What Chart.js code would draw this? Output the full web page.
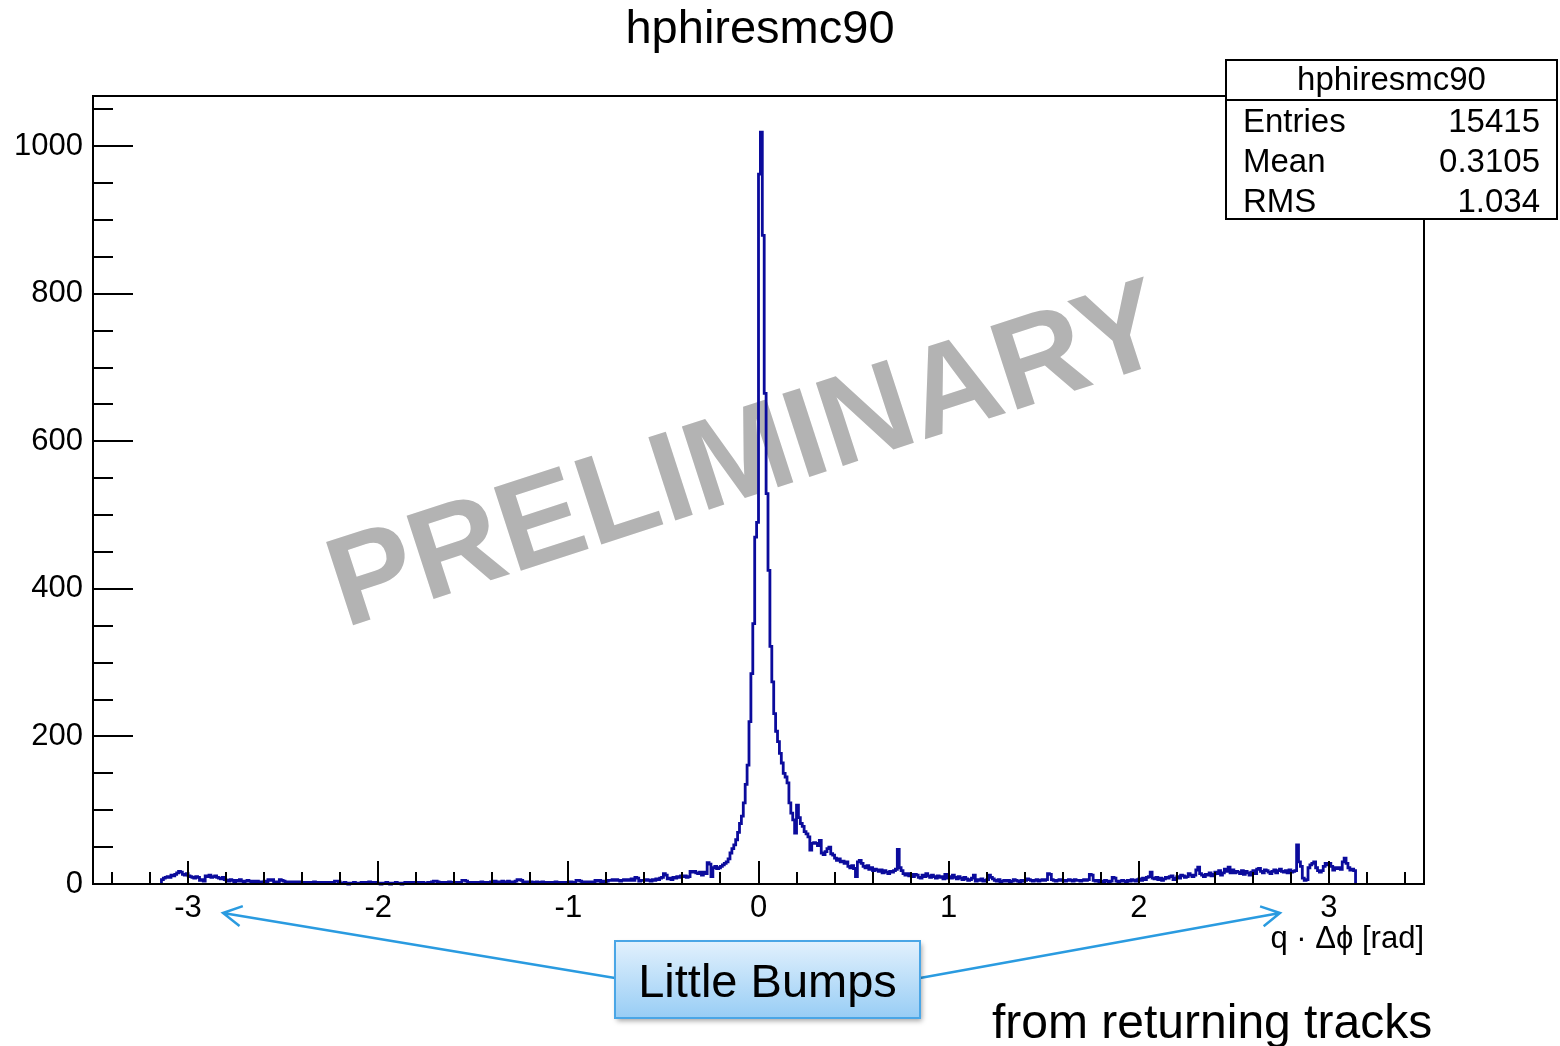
<!DOCTYPE html>
<html>
<head>
<meta charset="utf-8">
<title>hphiresmc90</title>
<script src="https://cdn.jsdelivr.net/npm/chart.js@4.4.1/dist/chart.umd.min.js"></script>
<style>
  html, body { margin: 0; padding: 0; background: #fff; overflow: hidden; }
  #chart { display: block; }
</style>
</head>
<body>
<canvas id="chart" width="1560" height="1046"></canvas>
<script>
/**
 * ROOT-style histogram: hphiresmc90  (q · Δφ, bins of 0.01 rad)
 */

// Histogram definition
const BIN_START = -3.14;
const BIN_WIDTH = 0.01;

// Counts, one value per 0.01 bin
// -3.14 .. -1.01
const countsLeftTail = [
    6, 8, 9, 10, 9, 12, 11, 13, 15, 17, 16, 13, 12, 14, 11, 10, 9, 8, 10, 9,
    5, 6, 4, 11, 10, 12, 9, 10, 11, 9, 8, 7, 9, 6,
    5, 4, 6, 5, 3, 5, 4, 6, 4, 3, 4, 5, 4, 3, 4, 2, 4, 3, 2, 3,
    4, 3, 6, 5, 6, 3, 2, 3, 6, 5, 4, 3, 2, 3, 3, 2, 3, 2, 3, 2,
    2, 1, 2, 2, 1, 2, 3, 2, 1, 2,
    2, 1, 2, 1, 2, 2, 1, 4, 4, 3,
    1, 1, 2, 1, 0, 1, 1, 2, 1, 1,
    1, 2, 1, 2, 2, 3, 2, 1, 2, 1,
    1, 0, 1, 1, 2, 1, 0, 1, 1, 2,
    1, 1, 0, 1, 2, 2, 1, 2, 2, 1,
    2, 2, 1, 2, 1, 1, 2, 1, 3, 4,
    4, 3, 2, 2, 1, 2, 2, 3, 2, 1,
    2, 2, 1, 2, 5, 5, 4, 2, 1, 2,
    2, 1, 2, 2, 3, 2, 1, 2, 2, 3,
    3, 4, 3, 2, 3, 4, 3, 2, 4, 3,
    3, 2, 4, 6, 6, 5, 3, 2, 3, 2,
    3, 2, 2, 3, 1, 2, 3, 2, 1, 2,
    2, 1, 2, 3, 2, 1, 2, 2, 1, 2
];
// -1.00 .. -0.11
const countsLeftShoulder = [
    2, 3, 2, 2, 5, 5, 4, 3, 2, 3,
    3, 2, 3, 3, 5, 4, 5, 3, 4, 3,
    4, 5, 5, 6, 5, 6, 5, 4, 5, 6,
    5, 6, 5, 7, 5, 9, 8, 4, 5, 5,
    5, 6, 5, 4, 6, 5, 7, 6, 8, 9,
    14, 12, 7, 8, 6, 9, 8, 10, 9, 11,
    10, 11, 9, 10, 17, 16, 17, 15, 14, 16,
    12, 16, 14, 29, 27, 10, 22, 24, 21, 22,
    24, 26, 28, 30, 34, 42, 48, 53, 60, 70
];
// -0.10 .. 0.19
const countsCore = [
    82, 92, 110, 135, 161, 220, 285, 353, 470, 490,
    962, 1019, 879, 665, 529, 425, 322, 274, 231, 207,
    193, 177, 164, 150, 145, 137, 110, 96, 87, 69
];
// 0.20 .. 0.99
const countsRightShoulder = [
    107, 90, 82, 78, 71, 68, 64, 46, 55, 56,
    55, 52, 59, 42, 40, 44, 48, 50, 41, 39,
    35, 32, 34, 30, 31, 28, 30, 24, 22, 25,
    21, 10, 30, 32, 28, 24, 22, 25, 20, 22,
    18, 20, 19, 17, 19, 15, 18, 16, 14, 17,
    16, 18, 20, 47, 22, 18, 14, 12, 14, 11,
    13, 10, 13, 12, 9, 8, 12, 10, 14, 11,
    9, 12, 10, 8, 11, 9, 10, 7, 13, 8
];
// 1.00 .. 3.13
const countsRightTail = [
    10, 8, 12, 9, 7, 10, 8, 6, 9, 7,
    5, 6, 8, 12, 4, 6, 5, 7, 4, 5,
    6, 12, 9, 7, 5, 4, 6, 3, 4, 5,
    4, 5, 3, 4, 6, 5, 4, 3, 5, 4,
    5, 7, 6, 5, 4, 5, 6, 4, 5, 6,
    5, 6, 14, 13, 6, 5, 4, 5, 6, 5,
    5, 4, 5, 6, 5, 4, 6, 5, 5, 4,
    5, 6, 5, 6, 13, 12, 5, 4, 5, 3,
    4, 3, 5, 4, 3, 4, 9, 8, 4, 3,
    4, 5, 4, 3, 5, 4, 6, 5, 4, 6,
    7, 5, 8, 6, 9, 10, 16, 8, 7, 9,
    6, 8, 5, 7, 9, 8, 10, 11, 6, 8,
    10, 8, 12, 11, 9, 10, 14, 12, 10, 12,
    19, 23, 14, 12, 10, 13, 12, 15, 11, 13,
    16, 14, 18, 12, 15, 20, 17, 23, 15, 19,
    15, 17, 16, 14, 18, 13, 17, 15, 12, 16,
    18, 14, 20, 21, 17, 15, 19, 18, 16, 14,
    17, 19, 15, 18, 20, 17, 16, 18, 15, 19,
    16, 17, 18, 53, 30, 24, 8, 5, 6, 22,
    26, 28, 30, 22, 18, 16, 18, 24, 28, 26,
    28, 24, 19, 22, 21, 22, 20, 30, 35, 28,
    22, 19, 20, 18
];

// Axes
const X_RANGE = [-3.5, 3.5];
const Y_RANGE = [0, 1068];
const xTicks = [-3, -2, -1, 0, 1, 2, 3];
const yTicks = [0, 200, 400, 600, 800, 1000];
const X_MINOR_STEP = 0.2;
const Y_MINOR_STEP = 50;

// Stats box
const histName = 'hphiresmc90';
const statLabels = ['Entries', 'Mean', 'RMS'];
const statValues = ['15415', '0.3105', '1.034'];

const xAxisTitle = 'q \u00b7 \u0394\u03d5 [rad]';
const watermark = 'PRELIMINARY';
const calloutText = 'Little Bumps';
const noteText = 'from returning tracks';

const FONT = '"Liberation Sans", Arial, Helvetica, sans-serif';
const LINE_COLOR = '#0b0b9c';
const CALLOUT_BLUE = '#2a9be0';

/**
 * HELPER: histogram outline points (bin low edges, stepped)
 */
function buildHistogramPoints() {
    const counts = [].concat(countsLeftTail, countsLeftShoulder, countsCore,
        countsRightShoulder, countsRightTail);
    const pts = [{ x: BIN_START, y: 0 }];
    counts.forEach((c, i) => {
        pts.push({ x: +(BIN_START + i * BIN_WIDTH).toFixed(2), y: c });
    });
    pts.push({ x: +(BIN_START + counts.length * BIN_WIDTH).toFixed(2), y: 0 });
    return pts;
}

/**
 * HELPER: open arrow head
 */
function drawArrow(ctx, x1, y1, x2, y2) {
    const ang = Math.atan2(y2 - y1, x2 - x1);
    const len = 21, spread = 0.5;
    ctx.beginPath();
    ctx.moveTo(x1, y1);
    ctx.lineTo(x2, y2);
    ctx.moveTo(x2 - len * Math.cos(ang - spread), y2 - len * Math.sin(ang - spread));
    ctx.lineTo(x2, y2);
    ctx.lineTo(x2 - len * Math.cos(ang + spread), y2 - len * Math.sin(ang + spread));
    ctx.stroke();
}

/**
 * PLUGIN: ROOT look (watermark, frame, inward ticks, stats, notes)
 */
const rootStyle = {
    id: 'rootStyle',

    beforeDatasetsDraw(chart) {
        const ctx = chart.ctx;
        ctx.save();
        ctx.translate(748, 460);
        ctx.rotate(-18 * Math.PI / 180);
        ctx.font = `bold 127px ${FONT}`;
        ctx.fillStyle = '#b3b3b3';
        ctx.textAlign = 'center';
        ctx.textBaseline = 'middle';
        ctx.fillText(watermark, 0, 0);
        ctx.restore();
    },

    afterDatasetsDraw(chart) {
        const ctx = chart.ctx;
        const { left, right, top, bottom } = chart.chartArea;
        const xs = chart.scales.x, ys = chart.scales.y;

        ctx.save();
        ctx.strokeStyle = '#000';
        ctx.lineWidth = 2;
        ctx.strokeRect(left, top, right - left, bottom - top);

        ctx.beginPath();
        // x ticks, pointing up into the frame
        for (let v = -3.4; v <= 3.41; v += X_MINOR_STEP) {
            const px = Math.round(xs.getPixelForValue(v));
            const major = xTicks.some(t => Math.abs(t - v) < 1e-6);
            ctx.moveTo(px, bottom);
            ctx.lineTo(px, bottom - (major ? 23 : 12));
        }
        // y ticks, pointing right into the frame
        for (let v = 0; v <= Y_RANGE[1]; v += Y_MINOR_STEP) {
            const py = Math.round(ys.getPixelForValue(v));
            const major = yTicks.includes(v);
            ctx.moveTo(left, py);
            ctx.lineTo(left + (major ? 40 : 20), py);
        }
        ctx.stroke();
        ctx.restore();
    },

    afterDraw(chart) {
        const ctx = chart.ctx;
        const { right } = chart.chartArea;
        ctx.save();

        // title
        ctx.fillStyle = '#000';
        ctx.font = `47px ${FONT}`;
        ctx.textAlign = 'center';
        ctx.textBaseline = 'alphabetic';
        ctx.fillText(histName, 760, 43);

        // x axis title
        ctx.font = `31px ${FONT}`;
        ctx.textAlign = 'right';
        ctx.fillText(xAxisTitle, right, 948);

        // stats box
        const bx = 1226, by = 60, bw = 331, bh = 159;
        ctx.fillStyle = '#fff';
        ctx.fillRect(bx, by, bw, bh);
        ctx.strokeStyle = '#000';
        ctx.lineWidth = 2;
        ctx.strokeRect(bx, by, bw, bh);
        ctx.beginPath();
        ctx.moveTo(bx, by + 40);
        ctx.lineTo(bx + bw, by + 40);
        ctx.stroke();

        ctx.fillStyle = '#000';
        ctx.font = `33px ${FONT}`;
        ctx.textAlign = 'center';
        ctx.fillText(histName, bx + bw / 2, by + 30);
        statLabels.forEach((lab, i) => {
            const yb = by + 72 + i * 40;
            ctx.textAlign = 'left';
            ctx.fillText(lab, bx + 17, yb);
            ctx.textAlign = 'right';
            ctx.fillText(statValues[i], bx + bw - 17, yb);
        });

        // callout arrows
        ctx.strokeStyle = CALLOUT_BLUE;
        ctx.lineWidth = 2.5;
        drawArrow(ctx, 615, 978, 223, 913);
        drawArrow(ctx, 920, 978, 1280, 913);

        // callout box
        const cx = 615, cy = 941, cw = 305, ch = 77;
        ctx.save();
        ctx.shadowColor = 'rgba(0,0,0,0.35)';
        ctx.shadowBlur = 5;
        ctx.shadowOffsetX = 2;
        ctx.shadowOffsetY = 3;
        const grad = ctx.createLinearGradient(0, cy, 0, cy + ch);
        grad.addColorStop(0, '#e2f1fd');
        grad.addColorStop(1, '#98cdf5');
        ctx.fillStyle = grad;
        ctx.fillRect(cx, cy, cw, ch);
        ctx.restore();
        ctx.strokeStyle = '#4aa6e6';
        ctx.lineWidth = 2;
        ctx.strokeRect(cx, cy, cw, ch);

        ctx.fillStyle = '#000';
        ctx.font = `47px ${FONT}`;
        ctx.textAlign = 'center';
        ctx.fillText(calloutText, cx + cw / 2, cy + 56);

        ctx.font = `48px ${FONT}`;
        ctx.textAlign = 'left';
        ctx.fillText(noteText, 992, 1038);

        ctx.restore();
    }
};

/**
 * START
 */
function init() {
    const tickFont = { family: FONT, size: 31 };

    new Chart(document.getElementById('chart'), {
        type: 'line',
        data: {
            datasets: [{
                data: buildHistogramPoints(),
                stepped: true,
                borderColor: LINE_COLOR,
                borderWidth: 2.8,
                pointRadius: 0,
                fill: false,
                clip: false
            }]
        },
        options: {
            responsive: false,
            devicePixelRatio: 1,
            animation: false,
            events: [],
            layout: { padding: { left: 0, top: 96, right: 136, bottom: 0 } },
            plugins: {
                legend: { display: false },
                tooltip: { enabled: false },
                title: { display: false }
            },
            scales: {
                x: {
                    type: 'linear',
                    min: X_RANGE[0],
                    max: X_RANGE[1],
                    grid: { display: false, drawTicks: false },
                    border: { display: false },
                    afterBuildTicks: s => { s.ticks = xTicks.map(v => ({ value: v })); },
                    afterFit: s => { s.height = 162; },
                    ticks: {
                        color: '#000', font: tickFont, padding: 6, maxRotation: 0, autoSkip: false,
                        callback: v => String(v)
                    }
                },
                y: {
                    type: 'linear',
                    min: Y_RANGE[0],
                    max: Y_RANGE[1],
                    grid: { display: false, drawTicks: false },
                    border: { display: false },
                    afterBuildTicks: s => { s.ticks = yTicks.map(v => ({ value: v })); },
                    afterFit: s => { s.width = 93; },
                    ticks: { color: '#000', font: tickFont, padding: 10, callback: v => String(v) }
                }
            }
        },
        plugins: [rootStyle]
    });
}

init();
</script>
</body>
</html>
